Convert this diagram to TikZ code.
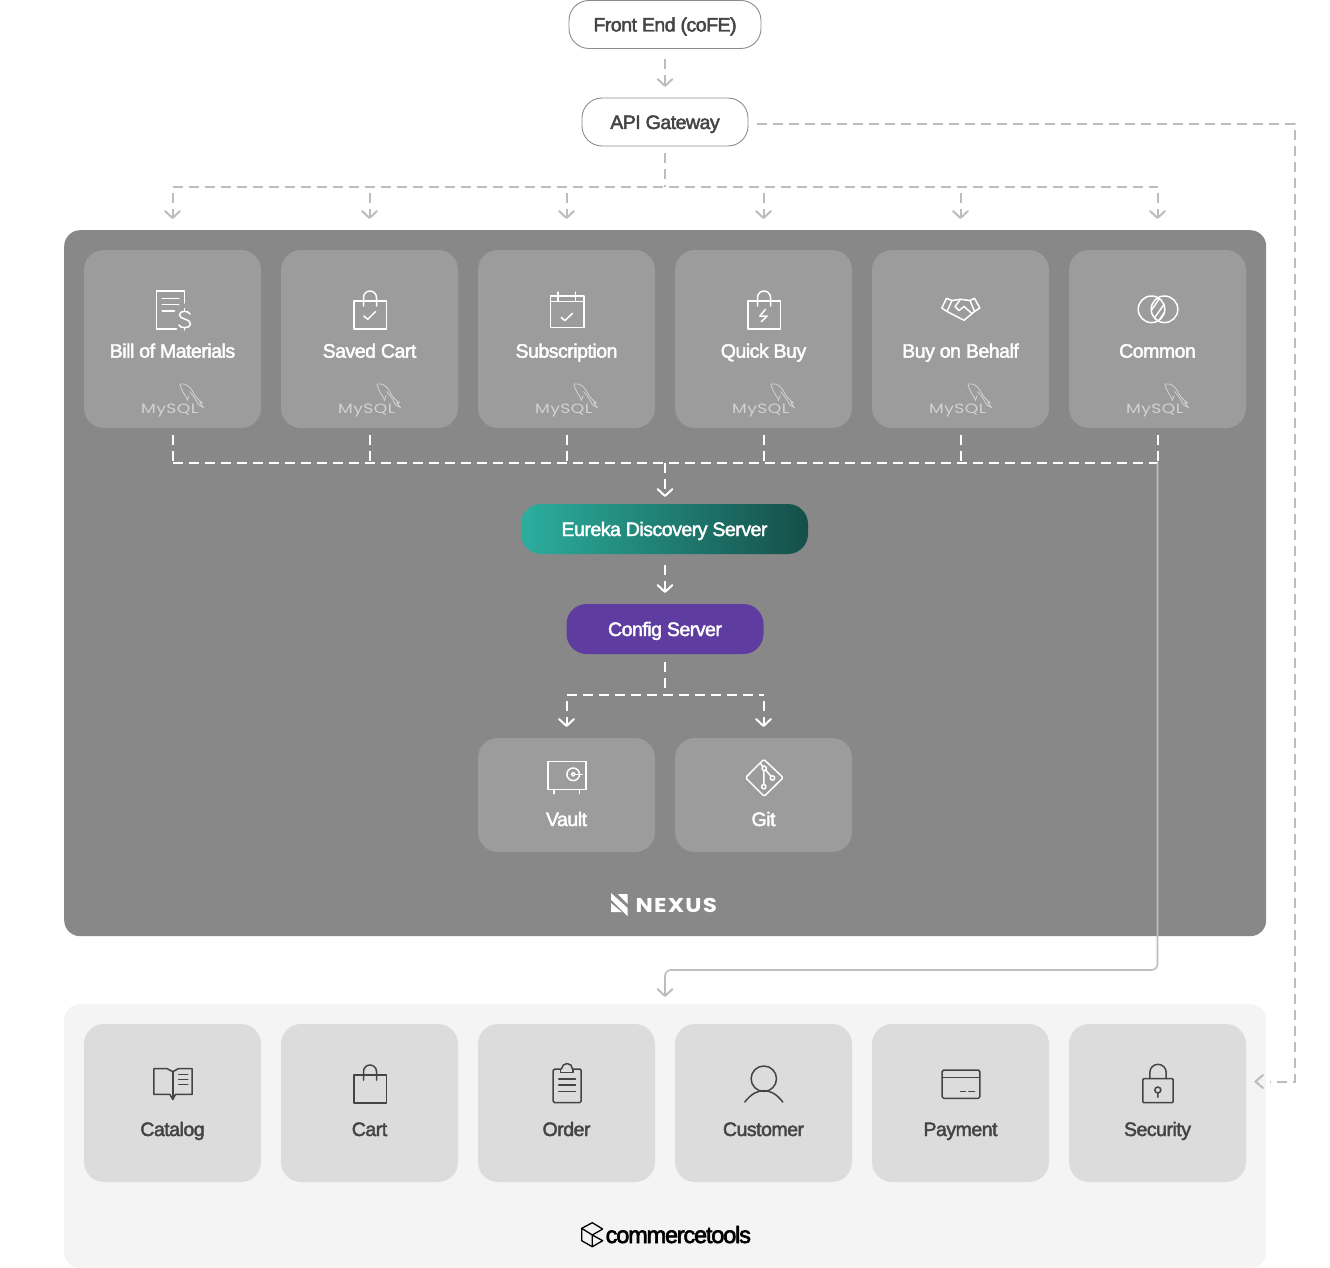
\documentclass[tikz,border=0pt]{standalone}
\usepackage{fontspec}
\usetikzlibrary{arrows.meta}
\setmainfont{Liberation Sans}
\newfontfamily\lblfont[FakeBold=2.2,LetterSpace=-2.5]{Liberation Sans}
\newfontfamily\ctfont[FakeBold=2.6,LetterSpace=-5]{Liberation Sans}
\newfontfamily\nxfont[LetterSpace=6,FakeStretch=1.15]{Poppins Bold}
\newfontfamily\myfont[LetterSpace=3,FakeStretch=1.27]{Poppins}
\definecolor{gline}{HTML}{BDBDBD}
\definecolor{panelA}{HTML}{888888}
\definecolor{cardA}{HTML}{9C9C9C}
\definecolor{panelB}{HTML}{F4F4F4}
\definecolor{cardB}{HTML}{DCDCDC}
\definecolor{ink}{HTML}{444444}
\definecolor{mysqlc}{HTML}{D2D2D2}
\definecolor{HL}{HTML}{2BAE9E}
\definecolor{HR}{HTML}{154F49}
\definecolor{CS}{HTML}{5F3DA0}
\tikzset{
  x=1pt,y=-1pt,
  chev/.tip={Straight Barb[length=7pt,width=15pt,line width=2pt,round]},
  gdash/.style={draw=gline,line width=2pt,dash pattern=on 10pt off 6pt},
  wdash/.style={draw=white,line width=2pt,dash pattern=on 10pt off 6pt},
  solidg/.style={draw=gline,line width=1.6pt},
  cardbox/.style={rounded corners=20pt,minimum width=177pt,inner sep=0pt,outer sep=0pt},
  cardtop/.style={cardbox,fill=cardA,minimum height=178pt},
  cardmid/.style={cardbox,fill=cardA,minimum height=114pt},
  cardbot/.style={cardbox,fill=cardB,minimum height=158pt},
  lblw/.style={text=white,font=\lblfont\fontsize{19.5}{22}\selectfont,inner sep=0pt,anchor=base},
  lblk/.style={text=ink,font=\lblfont\fontsize{19.5}{22}\selectfont,inner sep=0pt,anchor=base},
  pill/.style={rounded corners=20pt,minimum height=48pt,inner sep=0pt,outer sep=0pt,draw=black!45,line width=0.9pt,fill=white,text=ink,text height=20pt,text depth=6pt,font=\lblfont\fontsize{19.5}{22}\selectfont},
  pillc/.style={rounded corners=20pt,minimum height=50pt,inner sep=0pt,outer sep=0pt,text=white,text height=20pt,text depth=6pt,font=\lblfont\fontsize{19.5}{22}\selectfont},
  icw/.style={draw=white,line width=1.5pt,line join=round,line cap=round},
  ick/.style={draw=ink,line width=1.5pt,line join=round,line cap=round},
}
\newcommand{\bagshape}{%
  \draw (-15.7,51) rectangle (17,79);
  \draw (-6,56) -- (-6,47.5) arc[start angle=180,end angle=360,radius=6.5] -- (7,56);
}
\newcommand{\icoBom}{\begin{scope}[icw]
  \draw (12,53) -- (12,41) -- (-16,41) -- (-16,79) -- (4,79);
  \draw (-10.3,48.3) -- (6.3,48.3) (-10.3,54.3) -- (6.3,54.3) (-10.3,61) -- (2,61);
  \draw (17.5,64) .. controls (16,60.5) and (7,60) .. (7,65) .. controls (7,70) and (18,68) .. (18,74) .. controls (18,79) and (7,78.5) .. (6.5,75);
  \draw (12,58.5) -- (12,61) (12,77.5) -- (12,80);
\end{scope}}
\newcommand{\icoSaved}{\begin{scope}[icw]\bagshape
  \draw (-5.7,66) -- (-1.7,69.3) -- (6,61.6);
\end{scope}}
\newcommand{\icoSub}{\begin{scope}[icw]
  \draw (-16,46) rectangle (17.3,77.7);
  \draw (-16,51.7) -- (17.3,51.7) (-8.7,42) -- (-8.7,50.7) (9,42) -- (9,50.7);
  \draw (-5.3,67.3) -- (-1.7,70.7) -- (6,63.3);
\end{scope}}
\newcommand{\icoQuick}{\begin{scope}[icw]\bagshape
  \draw (2,59.3) -- (-3.7,66) -- (3.7,66) -- (-2.3,71.7);
\end{scope}}
\newcommand{\icoBehalf}{\begin{scope}[icw]
  \draw (-14,48.3) -- (-18.7,58) -- (-13.5,61.5) -- (-8.5,50.5) -- cycle;
  \draw (14,48.3) -- (19.3,58) -- (14,61.5) -- (9.5,50.5) -- cycle;
  \draw (-8.5,50.5) -- (0,49.3) -- (9.5,50.5);
  \draw (-13.5,61.5) -- (3.5,70.3) -- (14,61.5);
  \draw (0,49.3) -- (-5.5,56.5) -- (-1.5,60.5) -- (3.5,56.5) -- (11.5,63.5);
\end{scope}}
\newcommand{\icoCommon}{\begin{scope}[icw]
  \begin{scope}
    \clip (-6,59.3) circle[radius=13.3];
    \clip (7,59.3) circle[radius=13.3];
    \draw (-8,63) -- (3,47) (-6,72) -- (9,51) (-1,74) -- (10,58);
  \end{scope}
  \draw (-6,59.3) circle[radius=13.3] (7,59.3) circle[radius=13.3];
\end{scope}}
\newcommand{\icoVault}{\begin{scope}[icw]
  \draw (-18.7,23.7) rectangle (19.7,51.3);
  \draw (6.7,36.3) circle[radius=6.3] (6.7,36.3) circle[radius=1.8];
  \draw (8.5,36.3) -- (15.7,36.3);
  \draw (-12.7,51.3) -- (-12.7,55.7) (13,51.3) -- (13,55.7);
\end{scope}}
\newcommand{\icoGit}{\begin{scope}[icw]
  \draw[rounded corners=1.5pt] (0.3,21.3) -- (19.7,39.7) -- (0.7,58.3) -- (-18,39.7) -- cycle;
  \draw (-3,25.5) -- (0.7,30.3) -- (9,40) (0.5,30.3) -- (0.3,48.7);
  \draw[fill=cardA] (0.7,30.3) circle[radius=2.2] (9,40) circle[radius=2.2] (0.3,48.7) circle[radius=2.2];
\end{scope}}
\newcommand{\icoCatalog}{\begin{scope}[ick]
  \draw (0.3,47.7) -- (-5.3,44.7) -- (-18.7,44.7) -- (-18.7,70.3) -- (-2.7,70.3) -- (0.3,75.3) -- (3,70.3) -- (19.7,70.3) -- (19.7,44.7) -- (5.7,44.7) -- cycle;
  \draw (0.3,47.7) -- (0.3,75.3);
  \draw (6.3,50.3) -- (15.3,50.3) (6.3,55.3) -- (15.3,55.3) (6.3,60.7) -- (15.3,60.7);
\end{scope}}
\newcommand{\icoCart}{\begin{scope}[ick]\bagshape\end{scope}}
\newcommand{\icoOrder}{\begin{scope}[ick]
  \draw[rounded corners=1.5pt] (-6,45) -- (-13.3,45) -- (-13.3,78.7) -- (14.7,78.7) -- (14.7,45) -- (7,45);
  \draw (-6,45) -- (-6,48.7) -- (6.7,48.7) -- (6.7,45);
  \draw (-5,45) arc[start angle=180,end angle=360,radius=5.5];
  \draw (-7.7,55) -- (9,55) (-7.7,61) -- (9,61) (-7.7,67.3) -- (9,67.3);
\end{scope}}
\newcommand{\icoCustomer}{\begin{scope}[ick]
  \draw (0.3,54.7) circle[radius=12.7];
  \draw (-18.7,78) .. controls (-12,69.5) and (-6,66.7) .. (0.3,66.7) .. controls (6.6,66.7) and (12.6,69.5) .. (19.3,78);
\end{scope}}
\newcommand{\icoPayment}{\begin{scope}[ick]
  \draw[rounded corners=1.5pt] (-18.3,46) rectangle (19.3,74.3);
  \draw (-18.3,53.3) -- (19.3,53.3) (0,67.7) -- (5,67.7) (8.3,67.7) -- (14,67.7);
\end{scope}}
\newcommand{\icoSecurity}{\begin{scope}[ick]
  \draw[rounded corners=1pt] (-14.7,54.7) rectangle (15.7,78.7);
  \draw (-7.7,54.7) -- (-7.7,48.5) arc[start angle=180,end angle=360,radius=8.2] -- (8.7,54.7);
  \draw (0.3,66) circle[radius=3] (0.3,69) -- (0.3,73.3);
\end{scope}}
\newcommand{\mysqlmark}{%
  \begin{scope}[draw=mysqlc,line width=0.8pt,line join=round]
    \draw (7.5,134) .. controls (13,133) and (17,136) .. (20,141) .. controls (22,146) and (25,149) .. (30,153) -- (27,152.7) -- (31,157.5) -- (26,155);
    \draw (7.5,134) .. controls (8,138) and (10,141) .. (11,143) .. controls (12,145) and (14,147) .. (15,150.5) -- (16.5,145.5);
    \draw (26,155) .. controls (24,150) and (21,146) .. (17,141.5);
  \end{scope}
  \node[text=mysqlc,inner sep=0pt,anchor=base west,font=\myfont\fontsize{13.5}{14}\selectfont] at (-31.5,163) {MySQL};
}
\begin{document}
\begin{tikzpicture}
\useasboundingbox (0,0) rectangle (1330,1268);
\fill[white] (0,0) rectangle (1330,1268);

% panels
\node[fill=panelA,rounded corners=16pt,minimum width=1202pt,minimum height=706pt,inner sep=0pt,anchor=north west] (nexus) at (64,230) {};
\node[fill=panelB,rounded corners=16pt,minimum width=1202pt,minimum height=264pt,inner sep=0pt,anchor=north west] (ct) at (64,1004) {};

% top pills
\node[pill,minimum width=192pt,anchor=north] (fe) at (665,0.5) {Front End (coFE)};
\node[pill,minimum width=166pt,anchor=north] (api) at (665,98) {API Gateway};

% upper cards
\foreach \n/\cx/\t/\ic in {bom/172.5/Bill of Materials/\icoBom,saved/369.5/Saved Cart/\icoSaved,sub/566.5/Subscription/\icoSub,quick/763.5/Quick Buy/\icoQuick,behalf/960.5/Buy on Behalf/\icoBehalf,common/1157.5/Common/\icoCommon}{
  \node[cardtop,anchor=north] (\n) at (\cx,250) {};
  \begin{scope}[shift={(\cx,250)}]
    \ic
    \mysqlmark
    \node[lblw] (\n l) at (0,107.7) {\t};
  \end{scope}
}
% central nodes
\node[pillc,minimum width=287pt,left color=HL,right color=HR,anchor=north] (eureka) at (664.5,504) {Eureka Discovery Server};
\node[pillc,minimum width=197pt,fill=CS,anchor=north] (config) at (665,604) {Config Server};

% vault, git
\foreach \n/\cx/\t/\ic in {vault/566.5/Vault/\icoVault,git/763.5/Git/\icoGit}{
  \node[cardmid,anchor=north] (\n) at (\cx,738) {};
  \begin{scope}[shift={(\cx,738)}]
    \ic
    \node[lblw] (\n l) at (0,88) {\t};
  \end{scope}
}
% lower cards
\foreach \n/\cx/\t/\ic in {catalog/172.5/Catalog/\icoCatalog,cart/369.5/Cart/\icoCart,order/566.5/Order/\icoOrder,customer/763.5/Customer/\icoCustomer,payment/960.5/Payment/\icoPayment,security/1157.5/Security/\icoSecurity}{
  \node[cardbot,anchor=north] (\n) at (\cx,1024) {};
  \begin{scope}[shift={(\cx,1024)}]
    \ic
    \node[lblk] (\n l) at (0,112) {\t};
  \end{scope}
}

% logos
\fill[white] (611,893) -- (627.7,908) -- (627.7,916.3) -- (611,899.7) -- cycle;
\fill[white] (617.7,894) -- (627.7,894) -- (627.7,904) -- cycle;
\fill[white] (611,903) -- (621.7,912) -- (611,912) -- cycle;
\node[text=white,inner sep=0pt,anchor=base west,font=\nxfont\fontsize{20}{22}\selectfont] (nxt) at (635.5,912.3) {NEXUS};

\begin{scope}[draw=black,line width=1.3pt,line join=round]
  \draw (602.7,1229) -- (592.3,1222.7) -- (581.7,1228.3) -- (581.7,1240.7) -- (592.3,1246.7) -- (602.7,1240.7) -- (592.3,1235) -- (581.7,1228.3);
  \draw (592.3,1235) -- (602.7,1229) (592.3,1235) -- (592.3,1246.7);
\end{scope}
\node[text=black,inner sep=0pt,anchor=base west,font=\ctfont\fontsize{23.5}{26}\selectfont] (ctt) at (605.5,1243) {commercetools};

% connectors
\coordinate (apibus) at (665,187);
\coordinate (cfgbus) at (665,695);
\coordinate (wbus) at (665,463);
\coordinate (elbow) at (1157.5,463);
\coordinate (aright) at (1295,124);
\coordinate (ctin) at (1270,1081.5);

\draw[gdash,-{chev},shorten <=11pt,shorten >=11pt] (fe.south) -- (api.north);
\draw[gdash,shorten <=7pt] (api.south) -- (apibus);
\draw[gdash] (bom.north |- apibus) -- (common.north |- apibus);
\foreach \n in {bom,saved,sub,quick,behalf,common}
  \draw[gdash,-{chev},shorten >=11pt,shorten <=6pt] (\n.north |- apibus) -- (\n.north |- nexus.north);

\draw[gdash,shorten <=9pt] ([yshift=-2pt]api.east) -- (aright) -- (aright |- ctin) -- (ctin);
\draw[draw=gline,line width=2pt,line cap=round,line join=miter] (1263,1075) -- (1255.5,1081.5) -- (1263,1088);

\foreach \n in {bom,saved,sub,quick,behalf,common}
  \draw[wdash,shorten <=7pt] (\n.south) -- (\n.south |- wbus);
\draw[wdash] (bom.south |- wbus) -- (elbow);
\draw[wdash,-{chev},shorten >=7pt] (wbus) -- (eureka.north -| wbus);
\draw[wdash,-{chev},shorten <=11pt,shorten >=11pt] (eureka.south -| wbus) -- (config.north -| wbus);

\draw[wdash,shorten <=8pt] (config.south) -- (cfgbus);
\draw[wdash] (vault.north |- cfgbus) -- (git.north |- cfgbus);
\foreach \n in {vault,git}
  \draw[wdash,-{chev},shorten >=11pt,shorten <=6pt] (\n.north |- cfgbus) -- (\n.north);

\draw[solidg,rounded corners=6pt,-{chev},shorten >=7pt] (elbow) -- (1157.5,970) -- (665,970) -- (ct.north -| api.south);
\end{tikzpicture}
\end{document}
